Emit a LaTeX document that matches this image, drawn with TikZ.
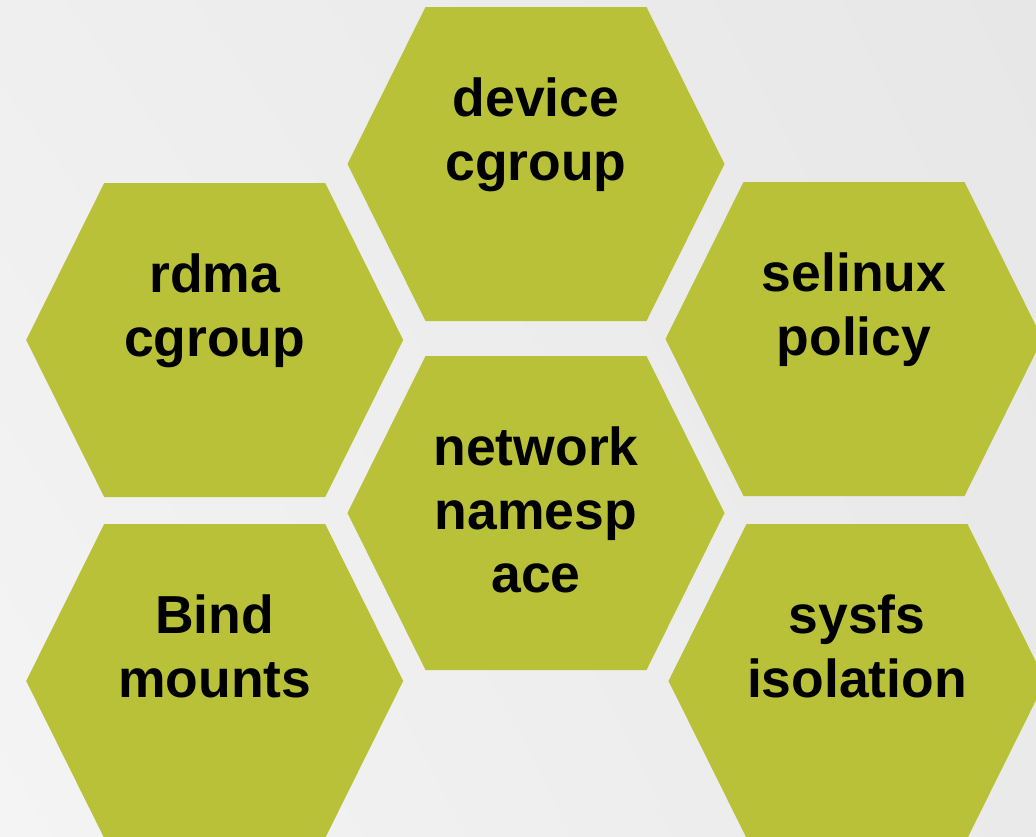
\documentclass[tikz,border=0pt]{standalone}
\usepackage{fontspec}
\usetikzlibrary{shadings}
\setmainfont{Liberation Sans}
\definecolor{hexfill}{HTML}{B8C138}
\definecolor{bgA}{HTML}{EFEFEF}
\definecolor{bgB}{HTML}{E7E7E7}
\definecolor{bgC}{HTML}{F4F4F4}
\definecolor{bgD}{HTML}{EAEAEA}
\tikzset{
  % anchored on the baseline of the last text line
  hexlabel/.style={anchor=base, align=center, inner sep=0pt, text=black,
    font=\bfseries\fontsize{53.5}{63.7}\selectfont},
  hexcell/.style={fill=hexfill, draw=none}
}
% flat-topped hexagon centred at (#1,#2): top half-width 110.5, tip 188.5, half-height 157
\newcommand{\hexat}[2]{%
  \fill[hexcell] (#1-110.5,#2-157) -- (#1+110.5,#2-157) -- (#1+188.5,#2)
    -- (#1+110.5,#2+157) -- (#1-110.5,#2+157) -- (#1-188.5,#2) -- cycle;}
\begin{document}
\begin{tikzpicture}[x=1pt,y=-1pt]
  \useasboundingbox (0,0) rectangle (1036,836);
  \shade[upper left=bgA, upper right=bgB, lower left=bgC, lower right=bgD]
    (0,0) rectangle (1036,836);
  \begin{scope}
    \clip (0,0) rectangle (1036,836);
    \hexat{536}{164}
    \hexat{214.7}{340}
    \hexat{854}{339}
    \hexat{536}{513}
    \hexat{214.7}{681}
    \hexat{857}{681}
  \end{scope}
  \node[hexlabel] (device)  at (536,180.2)   {device\\cgroup};
  \node[hexlabel] (rdma)    at (214.7,356.2) {rdma\\cgroup};
  \node[hexlabel] (selinux) at (854,355.2)   {selinux\\policy};
  \node[hexlabel] (network) at (536,592.9)   {network\\namesp\\ace};
  \node[hexlabel] (bind)    at (214.7,697.2) {Bind\\mounts};
  \node[hexlabel] (sysfs)   at (857,697.2)   {sysfs\\isolation};
\end{tikzpicture}
\end{document}
